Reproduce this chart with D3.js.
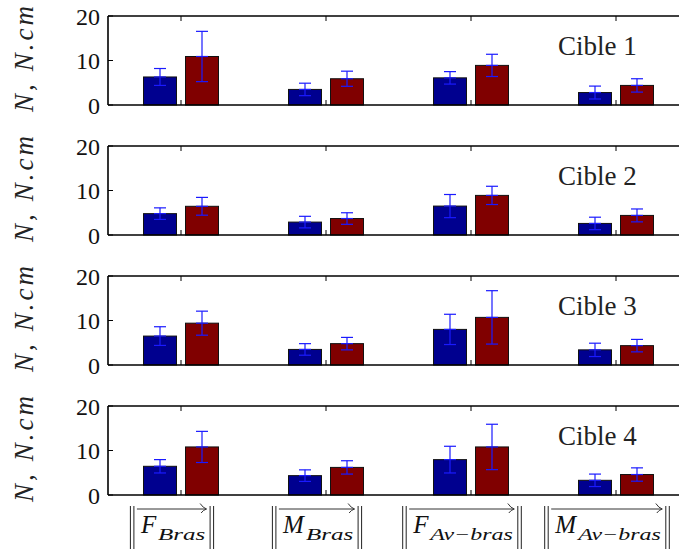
<!DOCTYPE html>
<html><head><meta charset="utf-8">
<script src="https://cdn.jsdelivr.net/npm/d3@7"></script>
</head><body style="margin:0">
<script>
// ---- data ----
const categories = [1, 2, 3, 4];
const catMain = ["F", "M", "F", "M"];
const catSub = ["Bras", "Bras", "Av\u2212bras", "Av\u2212bras"];
const panels = ["Cible 1", "Cible 2", "Cible 3", "Cible 4"];
const series = ["s1", "s2"];
const seriesColors = ["#00008F", "#800000"];
const yTicks = [0, 10, 20];
const yLabel = "N,  N.cm";

const blueMean = [
  [6.3, 3.5, 6.1, 2.8],
  [4.8, 2.9, 6.5, 2.6],
  [6.5, 3.5, 8.0, 3.4],
  [6.45, 4.35, 7.95, 3.3]
];
const blueErr = [
  [1.9, 1.4, 1.4, 1.45],
  [1.3, 1.3, 2.6, 1.4],
  [2.1, 1.3, 3.4, 1.5],
  [1.5, 1.3, 3.0, 1.4]
];
const redMean = [
  [10.9, 5.9, 8.9, 4.4],
  [6.45, 3.7, 8.9, 4.4],
  [9.4, 4.8, 10.7, 4.35],
  [10.8, 6.2, 10.8, 4.6]
];
const redErr = [
  [5.65, 1.7, 2.5, 1.5],
  [2.0, 1.3, 2.05, 1.45],
  [2.7, 1.4, 6.0, 1.4],
  [3.5, 1.5, 5.1, 1.5]
];

// ---- layout ----
const W = 679, H = 554;
const left = 108, plotW = 580, top0 = 16, step = 130, ph = 89;
const FONT = "serif";
const mainW = {F: 16, M: 22};

const svg = d3.select("body").append("svg").attr("width", W).attr("height", H);

const x = d3.scaleLinear().domain([0.5, 4.5]).range([left, left + plotW]);
const xs = d3.scaleBand().domain(series).range([-37, 38]).paddingInner(0.2143);

panels.forEach((name, p) => {
  const top = top0 + p * step;
  const y = d3.scaleLinear().domain([0, 20]).range([top + ph, top]);
  const g = svg.append("g");

  const bAx = g.append("g").attr("transform", `translate(0,${top + ph})`)
    .call(d3.axisBottom(x).tickValues(categories).tickSize(-5).tickSizeOuter(0).tickFormat(""));
  bAx.select(".domain").remove();
  bAx.selectAll("line").attr("stroke", "#000");

  const data = [];
  categories.forEach((c, i) => {
    data.push({c, s: "s1", v: blueMean[p][i], e: blueErr[p][i], col: seriesColors[0]});
    data.push({c, s: "s2", v: redMean[p][i], e: redErr[p][i], col: seriesColors[1]});
  });
  g.selectAll("rect.bar").data(data).enter().append("rect")
    .attr("x", d => x(d.c) + xs(d.s))
    .attr("width", xs.bandwidth())
    .attr("y", d => y(d.v))
    .attr("height", d => y(0) - y(d.v))
    .attr("fill", d => d.col)
    .attr("stroke", "#111").attr("stroke-width", 1);

  const eb = g.selectAll("g.eb").data(data).enter().append("g")
    .attr("stroke", "#1a1aff").attr("stroke-width", 1.2);
  const cx = d => x(d.c) + xs(d.s) + xs.bandwidth() / 2;
  eb.append("line").attr("x1", cx).attr("x2", cx)
    .attr("y1", d => y(d.v + d.e)).attr("y2", d => y(d.v - d.e));
  [1, -1, 0].forEach(k => {
    eb.append("line").attr("x1", d => cx(d) - 6).attr("x2", d => cx(d) + 6)
      .attr("y1", d => y(d.v + k * d.e)).attr("y2", d => y(d.v + k * d.e));
  });

  g.append("line").attr("x1", left).attr("x2", left + plotW).attr("y1", top).attr("y2", top)
    .attr("stroke", "#000").attr("stroke-width", 1.4);
  g.append("line").attr("x1", left).attr("x2", left + plotW).attr("y1", top + ph).attr("y2", top + ph)
    .attr("stroke", "#000").attr("stroke-width", 1.6);
  g.append("line").attr("x1", left).attr("x2", left).attr("y1", top).attr("y2", top + ph)
    .attr("stroke", "#000").attr("stroke-width", 1.6);

  const tAx = g.append("g").attr("transform", `translate(0,${top})`)
    .call(d3.axisTop(x).tickValues(categories).tickSize(-5).tickSizeOuter(0).tickFormat(""));
  tAx.select(".domain").remove();
  tAx.selectAll("line").attr("stroke", "#000");

  g.selectAll("line.yt").data(yTicks).enter().append("line")
    .attr("x1", left).attr("x2", left + 5)
    .attr("y1", d => y(d)).attr("y2", d => y(d))
    .attr("stroke", "#000");
  g.selectAll("text.yl").data(yTicks).enter().append("text")
    .attr("x", left - 8).attr("y", d => y(d) + 8.5)
    .attr("text-anchor", "end")
    .attr("font-size", 24).attr("font-family", FONT)
    .attr("fill", "#111")
    .text(d => d);

  svg.append("text")
    .attr("transform", `translate(33,${top + 43}) rotate(-90)`)
    .attr("text-anchor", "middle")
    .attr("font-size", 27).attr("font-family", FONT).attr("font-style", "italic")
    .attr("textLength", 106).attr("lengthAdjust", "spacing")
    .attr("fill", "#222")
    .text(yLabel);

  svg.append("text").attr("x", 558).attr("y", top + 39)
    .attr("font-size", 27).attr("font-family", FONT)
    .attr("fill", "#222")
    .text(name);
});

categories.forEach((c, i) => {
  const cxc = x(c) - 7.5;
  const g = svg.append("g").attr("transform", `translate(${cxc},0)`);
  const w1 = mainW[catMain[i]];
  const subW = catSub[i].length * 11.8;
  const cw = w1 + 1 + subW;
  const x0 = -cw / 2, xe = cw / 2;
  g.append("text").attr("font-size", 25).attr("font-family", FONT).attr("font-style", "italic")
    .attr("fill", "#111").attr("x", x0).attr("y", 533)
    .text(catMain[i]);
  g.append("text").attr("font-size", 17).attr("font-family", FONT).attr("font-style", "italic")
    .attr("fill", "#111")
    .attr("x", x0 + w1 + 1).attr("y", 540)
    .attr("textLength", subW).attr("lengthAdjust", "spacingAndGlyphs")
    .text(catSub[i]);
  g.append("line").attr("x1", x0 - 4).attr("x2", xe + 1).attr("y1", 509).attr("y2", 509)
    .attr("stroke", "#333").attr("stroke-width", 1);
  g.append("path").attr("d", `M${xe - 5},503.5 Q${xe - 2},508 ${xe + 1.5},509 Q${xe - 2},510 ${xe - 4},513`)
    .attr("fill", "none").attr("stroke", "#333").attr("stroke-width", 1);
  [x0 - 10.5, x0 - 7, xe + 5, xe + 8.5].forEach(bx => {
    g.append("line").attr("x1", bx).attr("x2", bx).attr("y1", 506).attr("y2", 549)
      .attr("stroke", "#222").attr("stroke-width", 1);
  });
});
</script>
</body></html>
